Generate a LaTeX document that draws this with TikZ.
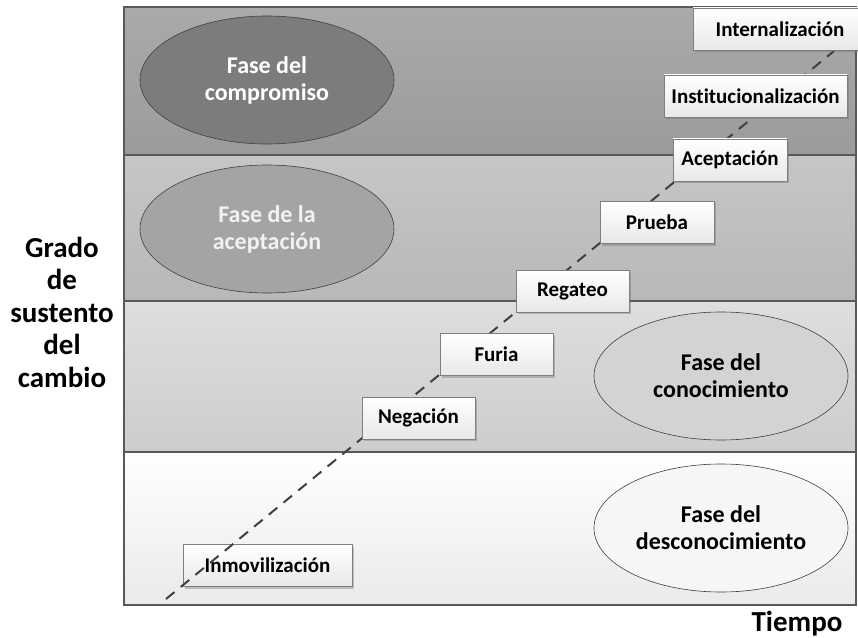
\documentclass[tikz,border=0pt]{standalone}
\usepackage{fontspec}
\setmainfont{Carlito}[RawFeature={-liga}]
\usetikzlibrary{shapes.geometric,shadows}
\definecolor{bandline}{HTML}{595959}
\definecolor{bAtop}{HTML}{AAAAAA}\definecolor{bAbot}{HTML}{9B9B9B}
\definecolor{bBtop}{HTML}{C6C6C6}\definecolor{bBbot}{HTML}{B8B8B8}
\definecolor{bCtop}{HTML}{DEDEDE}\definecolor{bCbot}{HTML}{CDCDCD}
\definecolor{bDtop}{HTML}{FFFFFF}\definecolor{bDbot}{HTML}{EAEAEA}
\definecolor{eA}{HTML}{7C7C7C}\definecolor{eB}{HTML}{A4A4A4}
\definecolor{eC}{HTML}{D3D3D3}\definecolor{eD}{HTML}{F6F6F6}
\definecolor{boxline}{HTML}{7F7F7F}
\definecolor{dashcol}{HTML}{404040}
\tikzset{
  bandbox/.style={draw=bandline, line width=1.2bp},
  phase/.style={ellipse, draw=dashcol, line width=0.6bp, minimum width=254bp, minimum height=128bp,
    inner sep=0pt, align=center, font=\bfseries\fontsize{24bp}{27bp}\selectfont},
  stagebox/.style={rectangle, draw=boxline, line width=0.9bp, top color=white, bottom color=black!9,
    minimum height=42bp, inner sep=0pt, font=\bfseries\fontsize{21bp}{24bp}\selectfont,
    drop shadow={shadow xshift=2bp, shadow yshift=-2bp, opacity=0.35, fill=black!60}},
  axislabel/.style={align=center, font=\bfseries\fontsize{29bp}{32.5bp}\selectfont},
  trend/.style={draw=dashcol, line width=2bp, dash pattern=on 11bp off 8bp}
}
\begin{document}
\begin{tikzpicture}[x=1bp,y=-1bp]
\useasboundingbox (0,0) rectangle (858,638);
% bands
\draw[bandbox, top color=bAtop, bottom color=bAbot] (124,7) rectangle (856,155);
\draw[bandbox, top color=bBtop, bottom color=bBbot] (124,155) rectangle (856,301);
\draw[bandbox, top color=bCtop, bottom color=bCbot] (124,301) rectangle (856,452);
\draw[bandbox, top color=bDtop, bottom color=bDbot] (124,452) rectangle (856,605);
% phases
\node[phase, fill=eA, text=white] (compromiso) at (267,80) {Fase del\\compromiso};
\node[phase, fill=eB, text=black!5] (aceptacionfase) at (267,229) {Fase de la\\aceptación};
\node[phase, fill=eC, text=black] (conocimiento) at (721,376) {Fase del\\conocimiento};
\node[phase, fill=eD, text=black] (desconocimiento) at (721,528) {Fase del\\desconocimiento};
% first stage (under the line)
\node[stagebox, minimum width=169bp] (inmov) at (267.5,565.5) {Inmovilización};
% trend line
\coordinate (tstart) at (166,599);
\coordinate (tend) at (834,51);
\draw[trend] (tstart) -- (tend);
% stages
\node[stagebox, minimum width=113bp] (negacion) at (418.5,418) {Negación};
\node[stagebox, minimum width=113bp] (furia) at (496.5,354.5) {Furia};
\node[stagebox, minimum width=113bp] (regateo) at (572.5,291) {Regateo};
\node[stagebox, minimum width=114bp] (prueba) at (657,222.5) {Prueba};
\node[stagebox, minimum width=114bp] (aceptacion) at (730,160) {Aceptación};
\node[stagebox, minimum width=183bp] (instit) at (755.5,96) {Institucionalización};
\node[stagebox, minimum width=174bp] (intern) at (780,29) {Internalización};
% axis labels
\node[axislabel] (grado) at (62,312) {Grado\\de\\sustento\\del\\cambio};
\node[axislabel, anchor=base] (tiempo) at (797,631) {Tiempo};
\end{tikzpicture}
\end{document}
